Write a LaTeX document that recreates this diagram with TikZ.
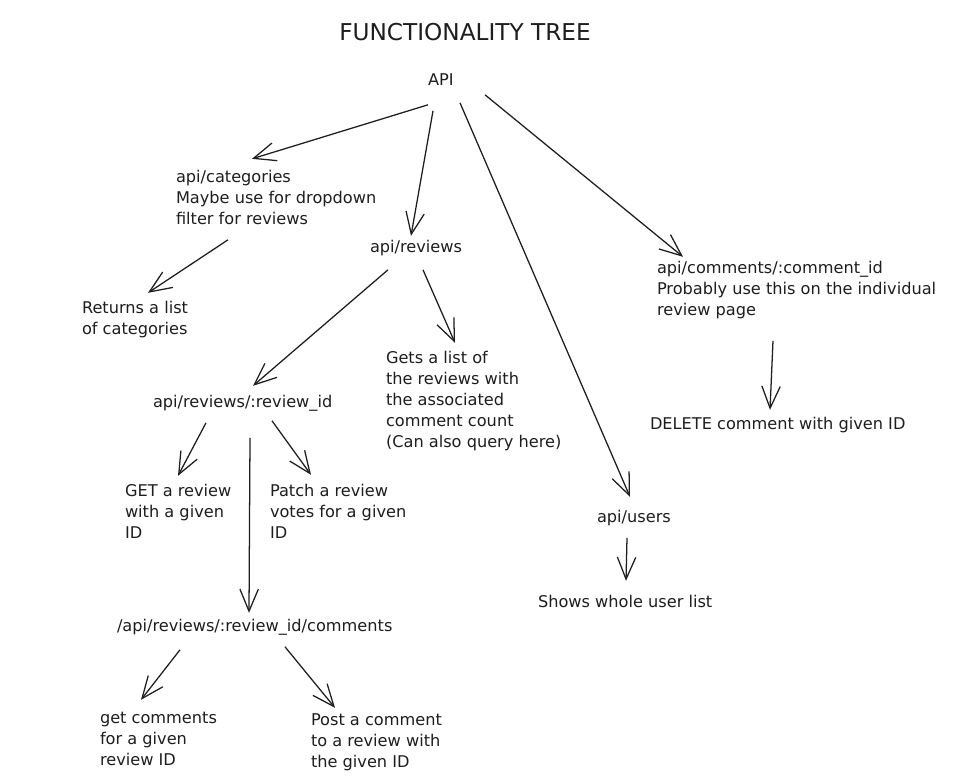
\documentclass[tikz,border=0pt]{standalone}
\usepackage{fontspec}
\setmainfont{DejaVu Sans}
\usetikzlibrary{calc,arrows.meta}

\definecolor{ink}{HTML}{1E1E1E}

\begin{document}
\begin{tikzpicture}[x=0.025cm,y=-0.025cm,
    every node/.style={inner sep=0pt,outer sep=0pt,text=ink},
    note/.style={anchor=north west,align=left,yshift=-2pt,font=\fontsize{11.5}{15}\selectfont},
    link/.style={draw=ink,line width=0.9pt,-{Straight Barb[length=5.5mm,width=4.6mm]}}]
  \useasboundingbox[fill=white] (0,0) rectangle (968,783);

  \node (title) at (465,32) {\fontsize{16.5}{18}\selectfont FUNCTIONALITY TREE};
  \node[note] (api) at (428,71) {API};
  \node[note] (cat) at (176,167) {api/categories\\Maybe use for dropdown\\filter for reviews};
  \node[note] (ret) at (82,298) {Returns a list\\of categories};
  \node[note] (reviews) at (370,237) {api/reviews};
  \node[note] (rid) at (153,392) {api/reviews/:review\_id};
  \node[note] (gets) at (386,348) {Gets a list of\\the reviews with\\the associated\\comment count\\(Can also query here)};
  \node[note] (get) at (125,481) {GET a review\\with a given\\ID};
  \node[note] (patch) at (270,481) {Patch a review\\votes for a given\\ID};
  \node[note] (comments) at (117,616) {/api/reviews/:review\_id/comments};
  \node[note] (getc) at (100,709) {get comments\\for a given\\review ID};
  \node[note] (post) at (311,711) {Post a comment\\to a review with\\the given ID};
  \node[note] (users) at (597,507) {api/users};
  \node[note] (shows) at (538,592) {Shows whole user list};
  \node[note] (cid) at (657,258) {api/comments/:comment\_id\\Probably use this on the individual\\review page};
  \node[note] (del) at (650,414) {DELETE comment with given ID};

  % from the root
  \draw[link] ($(api.north west)+(0,31)$) -- ($(cat.north west)+(76,-11)$);
  \draw[link] ($(api.north west)+(5,37)$) -- ($(reviews.north west)+(41,-4)$);
  \draw[link] ($(api.north west)+(32,29)$) -- ($(users.north west)+(33,-13)$);
  \draw[link] ($(api.north west)+(57,21)$) -- ($(cid.north west)+(26,-4)$);

  \draw[link] ($(cat.north west)+(52,70)$) -- ($(ret.north west)+(66,-8)$);
  \draw[link] ($(reviews.north west)+(18,30)$) -- ($(rid.north west)+(100,-9)$);
  \draw[link] ($(reviews.north west)+(53,30)$) -- ($(gets.north west)+(69,-8)$);

  % review_id branch
  \draw[link] ($(rid.north west)+(53,28)$) -- ($(get.north west)+(53,-8)$);
  \draw[link] ($(rid.north west)+(119,26)$) -- ($(patch.north west)+(41,-9)$);
  \draw[link] ($(rid.north west)+(97,43)$) -- ($(comments.north west)+(132,-6)$);
  \draw[link] ($(comments.north west)+(63,31)$) -- ($(getc.north west)+(41,-12)$);
  \draw[link] ($(comments.north west)+(168,28)$) -- ($(post.north west)+(24,-6)$);

  \draw[link] ($(cid.north west)+(116,80)$) -- ($(del.north west)+(120,-7)$);
  \draw[link] ($(users.north west)+(30,28)$) -- ($(shows.north west)+(88,-14)$);
\end{tikzpicture}
\end{document}
